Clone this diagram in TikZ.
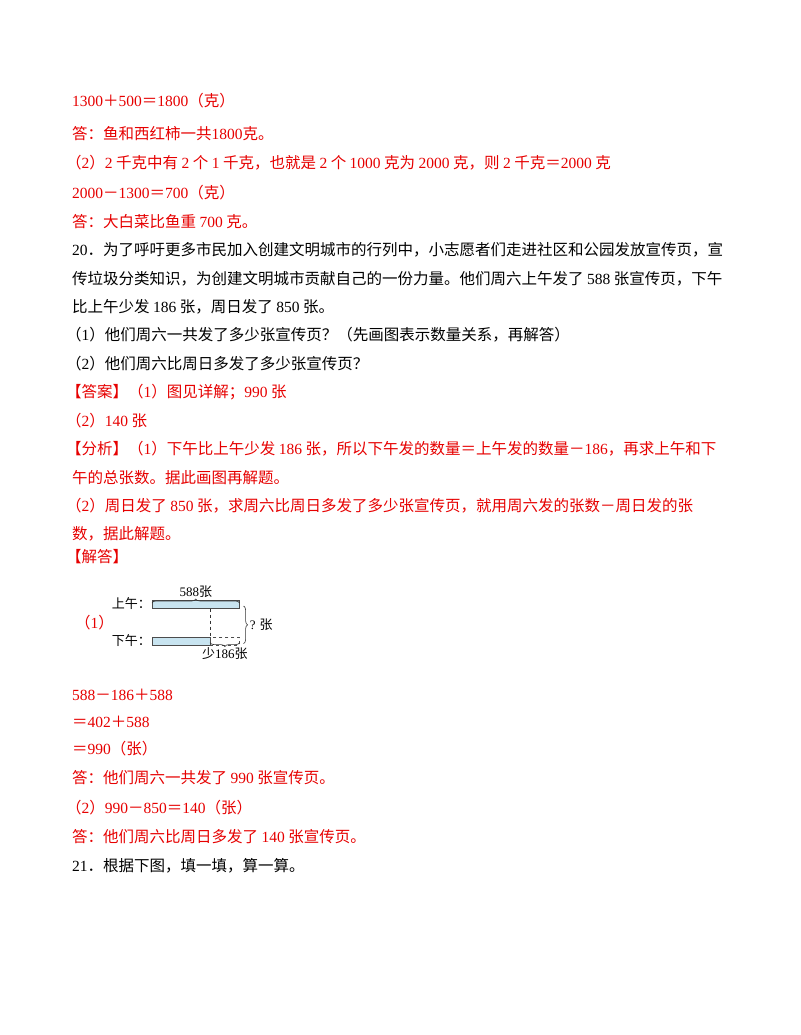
\documentclass[tikz,border=0pt]{standalone}
\usepackage{fontspec}
\setmainfont{Noto Sans CJK SC}
\newfontfamily\lat{Liberation Serif}
\usetikzlibrary{decorations.pathreplacing}
\definecolor{ans}{RGB}{230,0,0}
\definecolor{barfill}{RGB}{200,228,240}
\newcommand{\nn}[1]{{\lat #1}}
\begin{document}
\begin{tikzpicture}[x=1pt,y=-1pt,
  t/.style={anchor=west,inner sep=0pt,font=\fontsize{15.5}{17}\selectfont},
  r/.style={t,text=ans},
  k/.style={t,text=black},
  s/.style={inner sep=0pt,font=\fontsize{13}{15}\selectfont},
  bar/.style={draw=black!70,fill=barfill,line width=0.6pt},
  dbox/.style={draw=black!70,dashed,line width=0.6pt},
  br/.style={decorate,decoration={brace,amplitude=4pt},line width=0.6pt,draw=black!80}]
\useasboundingbox (0,0) rectangle (800,1035);
\node[r] (l1) at (72,101) {\nn{1300}＋\nn{500}＝\nn{1800}（克）};
\node[r] (l2) at (72,134) {答：鱼和西红柿一共\nn{1800}克。};
\node[r] (l3) at (66,163) {（\nn{2}）\nn{2} 千克中有 \nn{2} 个 \nn{1} 千克，也就是 \nn{2} 个 \nn{1000} 克为 \nn{2000} 克，则 \nn{2} 千克＝\nn{2000} 克};
\node[r] (l4) at (72,193) {\nn{2000}－\nn{1300}＝\nn{700}（克）};
\node[r] (l5) at (72,222) {答：大白菜比鱼重 \nn{700} 克。};
\node[k] (l6) at (72,250) {\nn{20}．为了呼吁更多市民加入创建文明城市的行列中，小志愿者们走进社区和公园发放宣传页，宣};
\node[k] (l7) at (72,279) {传垃圾分类知识，为创建文明城市贡献自己的一份力量。他们周六上午发了 \nn{588} 张宣传页，下午};
\node[k] (l8) at (72,307) {比上午少发 \nn{186} 张，周日发了 \nn{850} 张。};
\node[k] (l9) at (66,335) {（\nn{1}）他们周六一共发了多少张宣传页？（先画图表示数量关系，再解答）};
\node[k] (l10) at (66,364) {（\nn{2}）他们周六比周日多发了多少张宣传页？};
\node[r] (l11) at (66,392) {【答案】（\nn{1}）图见详解；\nn{990} 张};
\node[r] (l12) at (66,421) {（\nn{2}）\nn{140} 张};
\node[r] (l13) at (66,449) {【分析】（\nn{1}）下午比上午少发 \nn{186} 张，所以下午发的数量＝上午发的数量－\nn{186}，再求上午和下};
\node[r] (l14) at (72,478) {午的总张数。据此画图再解题。};
\node[r] (l15) at (66,506) {（\nn{2}）周日发了 \nn{850} 张，求周六比周日多发了多少张宣传页，就用周六发的张数－周日发的张};
\node[r] (l16) at (72,534) {数，据此解题。};
\node[r] (l17) at (66,557) {【解答】};
% diagram
\node[r] (p1) at (75,623) {（\nn{1}）};
\node[s,anchor=east] (up) at (151,604) {上午：};
\node[s,anchor=east] (dn) at (151,641) {下午：};
\node[bar,minimum width=87pt,minimum height=8pt,anchor=north west] (ub) at (152,600) {};
\node[bar,minimum width=58pt,minimum height=8pt,anchor=north west] (lb) at (152,637) {};
\node[dbox,minimum width=29pt,minimum height=8pt,anchor=north west] (db) at (210,637) {};
\draw[dashed,black!80,line width=0.6pt] (lb.north east |- ub.south) -- (lb.north east);
\draw[br] ([yshift=-3pt]ub.north west) -- ([yshift=-3pt]ub.north east) node[midway,above=5pt,s] (a588) {\nn{588}张};
\draw[br] ([xshift=4pt,yshift=-6pt]ub.north east) -- ([xshift=4pt,yshift=2pt]db.south east) node[midway,right=6pt,s] (q) {\nn{?} 张};
\draw[br] ([yshift=3pt]db.south east) -- ([yshift=3pt]db.south west) node[midway,below=5pt,s] (a186) {少\nn{186}张};
\node[r] (m1) at (72,695) {\nn{588}－\nn{186}＋\nn{588}};
\node[r] (m2) at (72,722) {＝\nn{402}＋\nn{588}};
\node[r] (m3) at (72,749) {＝\nn{990}（张）};
\node[r] (m4) at (72,778) {答：他们周六一共发了 \nn{990} 张宣传页。};
\node[r] (m5) at (66,808) {（\nn{2}）\nn{990}－\nn{850}＝\nn{140}（张）};
\node[r] (m6) at (72,837) {答：他们周六比周日多发了 \nn{140} 张宣传页。};
\node[k] (m7) at (72,866) {\nn{21}．根据下图，填一填，算一算。};
\end{tikzpicture}
\end{document}
